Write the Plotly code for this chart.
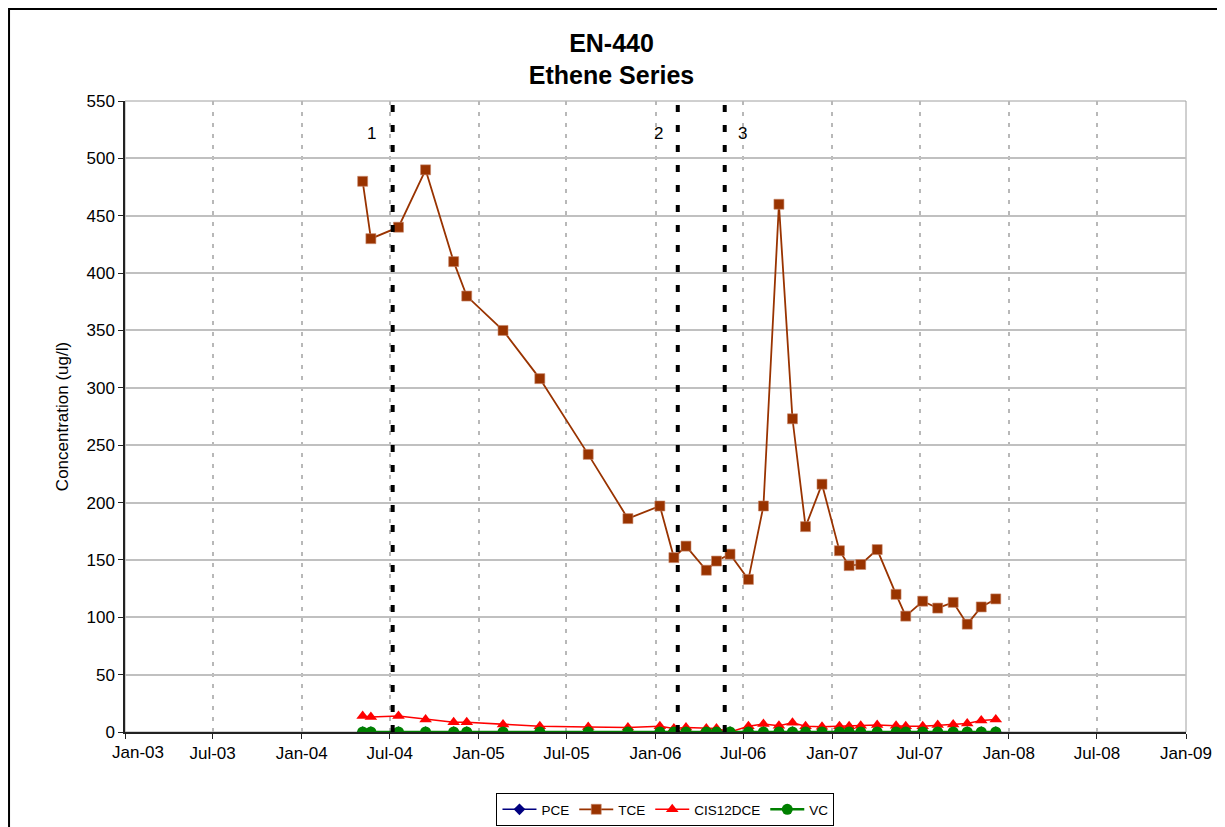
import plotly.graph_objects as go

# ---- data ----
sample_dates = ["2004-05-06", "2004-05-23", "2004-07-19", "2004-09-13", "2004-11-10",
                "2004-12-07", "2005-02-20", "2005-05-07", "2005-08-15", "2005-11-05",
                "2006-01-10", "2006-02-08", "2006-03-05", "2006-04-16", "2006-05-07",
                "2006-06-04", "2006-07-12", "2006-08-12", "2006-09-13", "2006-10-11",
                "2006-11-07", "2006-12-11", "2007-01-16", "2007-02-05", "2007-03-01",
                "2007-04-04", "2007-05-13", "2007-06-02", "2007-07-07", "2007-08-07",
                "2007-09-08", "2007-10-07", "2007-11-05", "2007-12-05"]

pce = [0, 0, 0, 0, 0, 0, 0, 0, 0, 0, 0, 0, 0, 0, 0, 0, 0,
       0, 0, 0, 0, 0, 0, 0, 0, 0, 0, 0, 0, 0, 0, 0, 0, 0]
tce = [480, 430, 440, 490, 410, 380, 350, 308, 242, 186, 197, 152, 162, 141, 149, 155, 133,
       197, 460, 273, 179, 216, 158, 145, 146, 159, 120, 101, 114, 108, 113, 94, 109, 116]
cis12dce = [14, 13, 14, 11, 8.5, 8.5, 6.5, 5, 4.4, 4, 5, 3, 4, 3, 3, 0, 5,
            7, 5.5, 8, 5, 4.5, 5, 5, 5.5, 6, 5.5, 5, 5, 6, 6.5, 7.5, 10, 11]
vc = [0, 0, 0, 0, 0, 0, 0, 0, 0, 0, 0, 0, 0, 0, 0, 0, 0,
      0, 0, 0, 0, 0, 0, 0, 0, 0, 0, 0, 0, 0, 0, 0, 0, 0]

event_dates = ["2004-07-07", "2006-02-16", "2006-05-24"]
event_labels = ["1", "2", "3"]
event_label_dates = ["2004-05-25", "2006-01-08", "2006-06-30"]

tick_dates = ["2003-01-01", "2003-07-01", "2004-01-01", "2004-07-01", "2005-01-01",
              "2005-07-01", "2006-01-01", "2006-07-01", "2007-01-01", "2007-07-01",
              "2008-01-01", "2008-07-01", "2009-01-01"]
tick_labels = ["Jan-03", "Jul-03", "Jan-04", "Jul-04", "Jan-05", "Jul-05", "Jan-06",
               "Jul-06", "Jan-07", "Jul-07", "Jan-08", "Jul-08", "Jan-09"]

FONT = "Arial, 'Liberation Sans', sans-serif"

fig = go.Figure()
fig.add_trace(go.Scatter(x=sample_dates, y=pce, name="PCE", mode="lines+markers",
                         line=dict(color="#000080", width=1.5),
                         marker=dict(symbol="diamond", size=9, color="#000080")))
fig.add_trace(go.Scatter(x=sample_dates, y=tce, name="TCE", mode="lines+markers",
                         line=dict(color="#993300", width=1.8),
                         marker=dict(symbol="square", size=10, color="#993300",
                                     line=dict(color="#c8866a", width=0.6))))
fig.add_trace(go.Scatter(x=sample_dates, y=cis12dce, name="CIS12DCE", mode="lines+markers",
                         line=dict(color="#FF0000", width=1.5),
                         marker=dict(symbol="triangle-up", size=11, color="#FF0000")))
fig.add_trace(go.Scatter(x=sample_dates, y=vc, name="VC", mode="lines+markers",
                         line=dict(color="#008000", width=2.5),
                         marker=dict(symbol="circle", size=11, color="#008000")))

shapes = []
# plot-area border (grey, top/right)
shapes.append(dict(type="rect", xref="paper", yref="paper", x0=0, x1=1, y0=0, y1=1,
                   line=dict(color="#a0a0a0", width=1), layer="below"))
# outer chart border
shapes.append(dict(type="rect", xref="paper", yref="paper", x0=-0.1093, x1=1.0302,
                   y0=-0.17, y1=1.1458, line=dict(color="black", width=2), layer="below"))
for d in event_dates:
    shapes.append(dict(type="line", xref="x", yref="paper", x0=d, x1=d, y0=0, y1=1,
                       line=dict(color="black", width=4, dash="7px,13px")))

annotations = []
for d, t in zip(event_label_dates, event_labels):
    annotations.append(dict(x=d, y=522, xref="x", yref="y", text=t, showarrow=False,
                            font=dict(family=FONT, size=17, color="black")))
# first date label: shifted right of its tick as in the reference
annotations.append(dict(x=0.01225, y=-0.0317, xref="paper", yref="paper",
                        text=tick_labels[0], showarrow=False, xanchor="center",
                        yanchor="middle", font=dict(family=FONT, size=17, color="black")))
shown_ticktext = [""] + tick_labels[1:]

fig.update_layout(
    width=1217, height=819, autosize=False,
    margin=dict(l=117, r=39, t=93, b=95),
    paper_bgcolor="white", plot_bgcolor="white",
    font=dict(family=FONT, size=17, color="black"),
    title=dict(text="<b>EN-440</b><br><b>Ethene Series</b>", x=0.4959, xref="container",
               xanchor="center", y=0.9468, yref="container", yanchor="top",
               font=dict(family=FONT, size=25, color="black")),
    showlegend=True,
    legend=dict(orientation="h", x=0.5094, xanchor="center", xref="paper",
                y=0.0415, yanchor="top", yref="container",
                bordercolor="black", borderwidth=1, bgcolor="white",
                font=dict(family=FONT, size=13.5, color="black"),
                itemwidth=34, tracegroupgap=0),
    shapes=shapes,
    annotations=annotations,
)

fig.update_xaxes(type="date", range=["2003-01-01", "2009-01-01"],
                 tickvals=tick_dates, ticktext=shown_ticktext,
                 showgrid=True, gridcolor="#b8b8b8", gridwidth=2, griddash="4px,7px",
                 showline=True, linecolor="#222222", linewidth=1.5,
                 ticks="outside", ticklen=5, tickcolor="#222222", tickwidth=1,
                 tickfont=dict(family=FONT, size=17, color="black"),
                 zeroline=False, automargin=False)
fig.update_yaxes(range=[0, 550], tick0=0, dtick=50,
                 showgrid=True, gridcolor="#c0c0c0", gridwidth=1.5,
                 showline=True, linecolor="#222222", linewidth=1.5,
                 ticks="outside", ticklen=5, tickcolor="#222222", tickwidth=1,
                 tickfont=dict(family=FONT, size=17, color="black"),
                 title=dict(text="Concentration (ug/l)", standoff=14,
                            font=dict(family=FONT, size=17, color="black")),
                 zeroline=False, automargin=False)

fig.write_html("out.html")
